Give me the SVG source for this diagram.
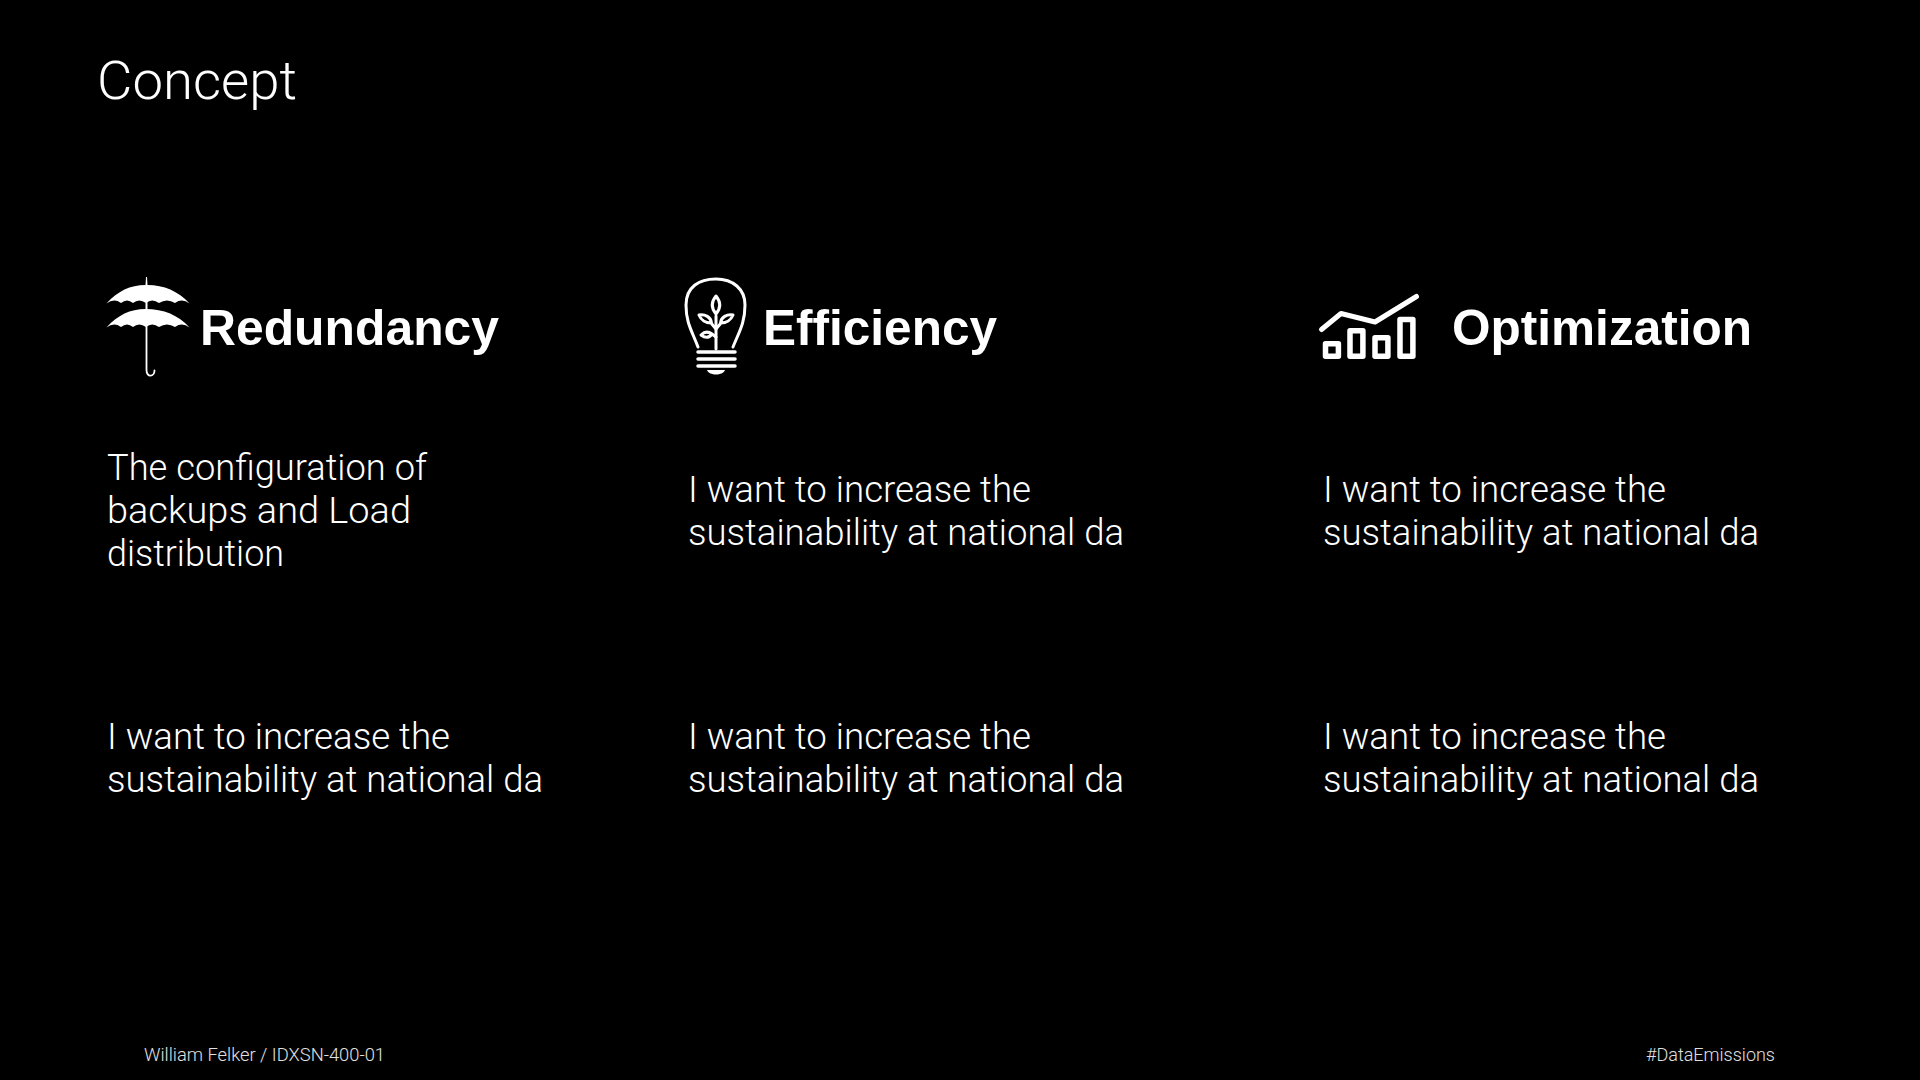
<svg xmlns="http://www.w3.org/2000/svg" width="1920" height="1080" viewBox="0 0 1920 1080">
<style>
text{fill:#fff;font-family:Roboto,"Liberation Sans",sans-serif}
.t{font-size:53px;font-weight:300}
.h{font-family:"Liberation Sans",Arial,sans-serif;font-weight:700;font-size:50px}
.b{font-size:36px;font-weight:300}
.f{font-size:19px;font-weight:300;fill:#e0e0e0}
.l{fill:none;stroke:#fff;stroke-linecap:round;stroke-linejoin:round}
</style>
<rect width="1920" height="1080" fill="#000"/>
<g id="title"><text class="t" x="97" y="99" textLength="200" lengthAdjust="spacingAndGlyphs">Concept</text></g>
<g id="redundancy">
<g id="umbrella" fill="#fff">
<path d="M145.500 285 L146 277 L147 277 L147.500 285 C164 285 178 291 189.500 303.500 Q182 298 175 303 Q167 298 159 303 Q152 298 146 303 Q139 298 133 303 Q127 298 121 303 Q114 298 106.500 303.500 C118 291 130 285 145.500 285Z"/>
<path d="M145.500 309 C164 309 178 315 189.500 327.500 Q182 322 175 327 Q167 322 159 327 Q152 322 146 327 Q139 322 133 327 Q127 322 121 327 Q114 322 106.500 327.500 C118 315 130 309 145.500 309Z"/>
<rect x="145.500" y="300" width="2" height="10"/>
</g>
<path class="l" stroke-width="1.800" d="M146.500 325 V370 C146.500 378 154.500 377 154.500 370.500"/>
<text class="h" x="200" y="345" textLength="299" lengthAdjust="spacingAndGlyphs">Redundancy</text>
<text class="b" x="107" y="480" textLength="320" lengthAdjust="spacingAndGlyphs">The configuration of</text>
<text class="b" x="107" y="523" textLength="304" lengthAdjust="spacingAndGlyphs">backups and Load</text>
<text class="b" x="107" y="566" textLength="177" lengthAdjust="spacingAndGlyphs">distribution</text>
<text class="b" x="107" y="749" textLength="343" lengthAdjust="spacingAndGlyphs">I want to increase the</text>
<text class="b" x="107" y="792" textLength="436" lengthAdjust="spacingAndGlyphs">sustainability at national da</text>
</g>
<g id="efficiency">
<g id="bulb">
<path class="l" stroke-width="3" d="M698 347 C692 331 686 323 686 305 C686 287 699 279 716 279 C733 279 745 289 745 305 C745 323 739 332 733 347"/>
<path class="l" stroke-width="3" d="M716 349 V316"/>
<path class="l" stroke-width="3" d="M716 314 C711 308 711 302 716 296 C721 302 721 308 716 314Z"/>
<path class="l" stroke-width="3" d="M716 329 L711 323 C706 323 701 320 699 315 C705 314 711 317 711.500 323 M716 329 L721 323 C726 323 731 320 733 315 C727 314 721 317 720.500 323 M716 337 L712 334 C708 331 704 332 701 335 C705 338 709 338 712 334"/>
<path class="l" stroke-width="3.500" d="M698 352 H735 M698 359 H735 M698 366 H735"/>
<path fill="#fff" d="M707 370 H725 C723 376 709 376 707 370Z"/>
</g>
<text class="h" x="763" y="345" textLength="234" lengthAdjust="spacingAndGlyphs">Efficiency</text>
<text class="b" x="688" y="502" textLength="343" lengthAdjust="spacingAndGlyphs">I want to increase the</text>
<text class="b" x="688" y="545" textLength="436" lengthAdjust="spacingAndGlyphs">sustainability at national da</text>
<text class="b" x="688" y="749" textLength="343" lengthAdjust="spacingAndGlyphs">I want to increase the</text>
<text class="b" x="688" y="792" textLength="436" lengthAdjust="spacingAndGlyphs">sustainability at national da</text>
</g>
<g id="optimization">
<g id="chart">
<path class="l" stroke-width="5" d="M1321.500 329.500 L1341 313.500 L1375 322 L1416.500 296.500"/>
<rect class="l" stroke-width="5.500" x="1325.500" y="343.800" width="12.900" height="12.500"/>
<rect class="l" stroke-width="5.500" x="1350" y="330.800" width="12.900" height="25.500"/>
<rect class="l" stroke-width="5.500" x="1375" y="337.800" width="12.900" height="18.500"/>
<rect class="l" stroke-width="5.500" x="1400" y="319.500" width="12.900" height="36.800"/>
</g>
<text class="h" x="1452" y="345" textLength="300" lengthAdjust="spacingAndGlyphs">Optimization</text>
<text class="b" x="1323" y="502" textLength="343" lengthAdjust="spacingAndGlyphs">I want to increase the</text>
<text class="b" x="1323" y="545" textLength="436" lengthAdjust="spacingAndGlyphs">sustainability at national da</text>
<text class="b" x="1323" y="749" textLength="343" lengthAdjust="spacingAndGlyphs">I want to increase the</text>
<text class="b" x="1323" y="792" textLength="436" lengthAdjust="spacingAndGlyphs">sustainability at national da</text>
</g>
<g id="footer">
<text class="f" x="144" y="1061" textLength="241" lengthAdjust="spacingAndGlyphs">William Felker / IDXSN-400-01</text>
<text class="f" x="1646" y="1061" textLength="129" lengthAdjust="spacingAndGlyphs">#DataEmissions</text>
</g>
</svg>
